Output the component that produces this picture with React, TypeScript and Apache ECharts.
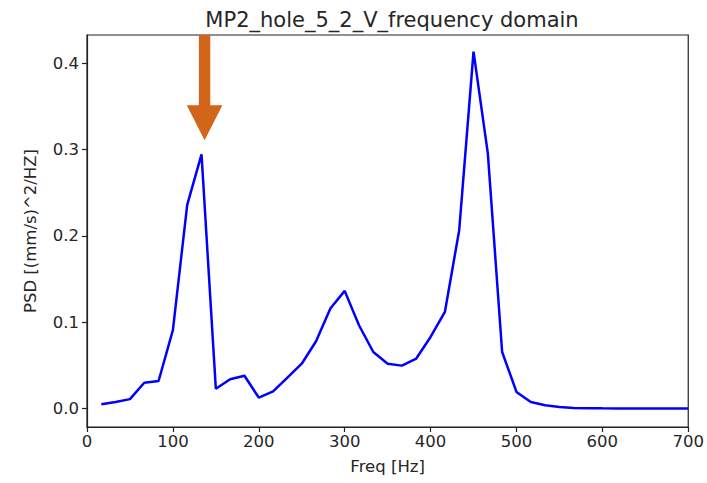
import React, { useEffect, useRef } from "react";
import * as echarts from "echarts";

const freqs = [
  16.67, 33.33, 50, 66.67, 83.33, 100, 116.67, 133.33, 150, 166.67, 183.33, 200,
  216.67, 233.33, 250, 266.67, 283.33, 300, 316.67, 333.33, 350, 366.67, 383.33, 400,
  416.67, 433.33, 450, 466.67, 483.33, 500, 516.67, 533.33, 550, 566.67, 583.33, 600,
  616.67, 633.33, 650, 666.67, 683.33, 700,
];

const psd = [
  0.005, 0.0077, 0.011, 0.03, 0.032, 0.091, 0.236, 0.2945, 0.023, 0.034, 0.038, 0.0127,
  0.02, 0.036, 0.052, 0.078, 0.116, 0.1364, 0.0966, 0.0656, 0.052, 0.0498, 0.058, 0.083,
  0.112, 0.2067, 0.4135, 0.2956, 0.0656, 0.0193, 0.0077, 0.0038, 0.0019, 0.0008, 0.0005, 0.0003,
  0.0002, 0.0002, 0.0001, 0.0001, 0.0001, 0.0001,
];

const xTicks = [0, 100, 200, 300, 400, 500, 600, 700];
const yTicks = [0.0, 0.1, 0.2, 0.3, 0.4];

// annotation arrow: tip location in data coordinates
const arrowTip = [136.9, 0.311];

const FONT = "DejaVu Sans";
const TEXT = "#262626";

export default function App() {
  const ref = useRef<HTMLDivElement>(null);
  useEffect(() => {
    if (!ref.current) return;
    const chart = echarts.init(ref.current, null, { renderer: "svg" });
    const yMin = -0.0213;
    const yMax = 0.4328;
    chart.setOption({
      animation: false,
      backgroundColor: "#ffffff",
      title: {
        text: "MP2_hole_5_2_V_frequency domain",
        left: 387,
        top: 4,
        textAlign: "center",
        textStyle: { fontFamily: FONT, fontSize: 21, fontWeight: "normal", color: TEXT },
      },
      grid: {
        left: 87,
        right: 18,
        top: 35,
        bottom: 56,
        show: true,
        borderColor: "#222",
        borderWidth: 1.2,
        backgroundColor: "transparent",
      },
      xAxis: {
        type: "value",
        min: 0,
        max: 700,
        interval: 100,
        name: "Freq [Hz]",
        nameLocation: "middle",
        nameGap: 31,
        nameTextStyle: { fontFamily: FONT, fontSize: 16.5, color: TEXT },
        axisLine: { show: true, onZero: false, lineStyle: { color: "#222", width: 1.2 } },
        axisTick: { show: true, length: 5, lineStyle: { color: "#222", width: 1.2 } },
        axisLabel: {
          fontFamily: FONT,
          fontSize: 16.5,
          color: TEXT,
          margin: 6,
          customValues: xTicks,
        },
        splitLine: { show: false },
      },
      yAxis: {
        type: "value",
        min: yMin,
        max: yMax,
        name: "PSD [(mm/s)^2/HZ]",
        nameLocation: "middle",
        nameGap: 48,
        nameRotate: 90,
        nameTextStyle: { fontFamily: FONT, fontSize: 16.5, color: TEXT },
        axisLine: { show: true, onZero: false, lineStyle: { color: "#222", width: 1.2 } },
        axisTick: { show: true, length: 5, lineStyle: { color: "#222", width: 1.2 }, customValues: yTicks },
        axisLabel: {
          fontFamily: FONT,
          fontSize: 16.5,
          color: TEXT,
          margin: 8,
          customValues: yTicks,
          formatter: (v: number) => v.toFixed(1),
        },
        splitLine: { show: false },
      },
      series: [
        {
          type: "line",
          data: freqs.map((f, i) => [f, psd[i]]),
          showSymbol: false,
          symbol: "none",
          lineStyle: { color: "#0000ff", width: 2.5 },
          z: 2,
        },
        {
          type: "custom",
          clip: false,
          z: 3,
          data: [arrowTip],
          renderItem: (params: any, api: any) => {
            const x = api.value(0);
            const y = api.value(1);
            const tip = api.coord([x, y]);
            const top = api.coord([x, yMax]);
            const headH = 35;
            const headHalf = 17.8;
            const shaftHalf = 5.7;
            const baseY = tip[1] - headH;
            const cx = tip[0];
            return {
              type: "polygon",
              shape: {
                points: [
                  [cx - shaftHalf, top[1]],
                  [cx + shaftHalf, top[1]],
                  [cx + shaftHalf, baseY],
                  [cx + headHalf, baseY],
                  [cx, tip[1]],
                  [cx - headHalf, baseY],
                  [cx - shaftHalf, baseY],
                ],
              },
              style: { fill: "#D2651A", stroke: "none" },
            };
          },
        },
      ],
    });
    return () => chart.dispose();
  }, []);
  return (
    <div
      ref={ref}
      style={{ position: "fixed", left: 0, top: 0, width: 707, height: 483 }}
    />
  );
}
